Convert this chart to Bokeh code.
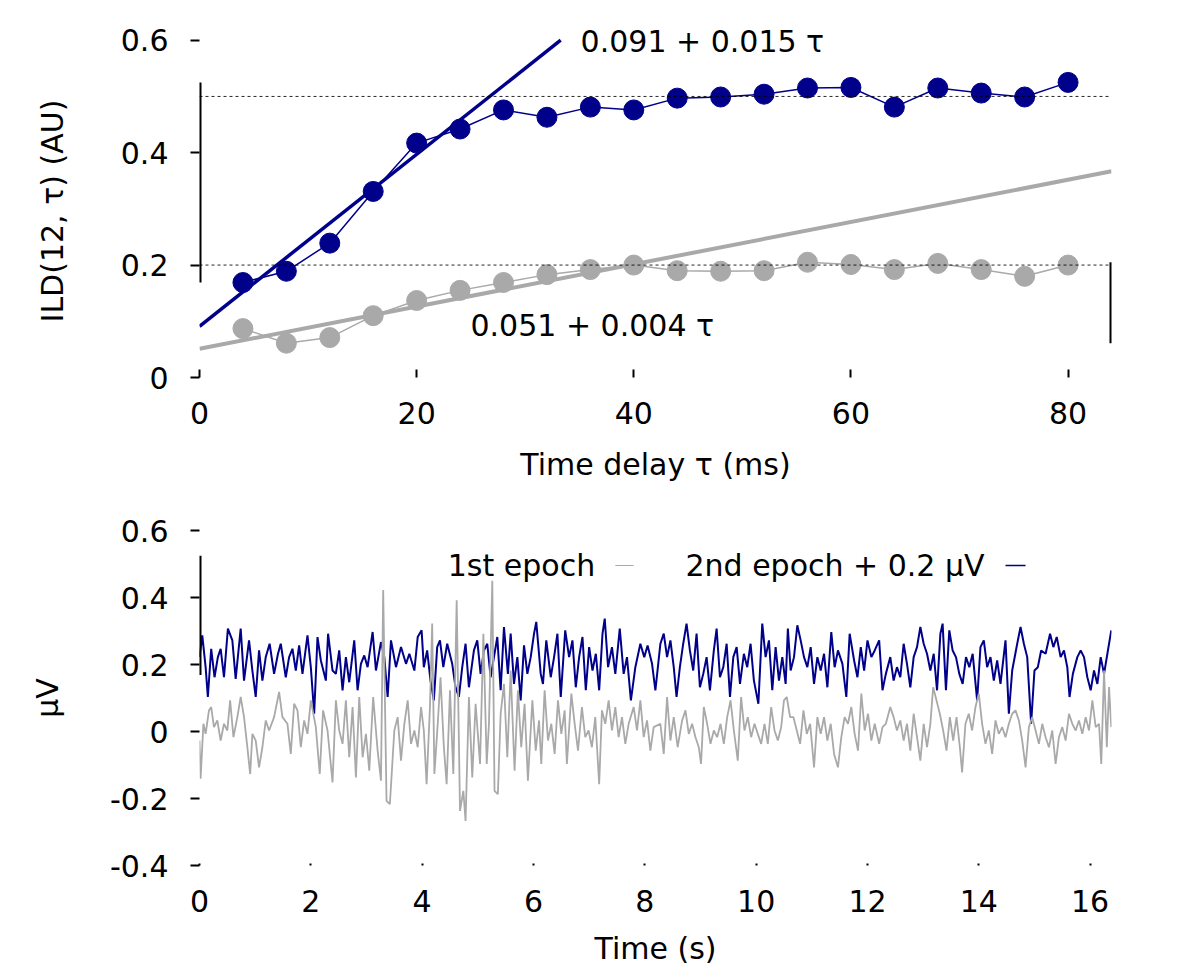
from bokeh.plotting import figure
from bokeh.layouts import column
from bokeh.models import FixedTicker, Span, Label, CustomJSTickFormatter, Range1d
from bokeh.embed import file_html
from bokeh.resources import INLINE

FONT = "DejaVu Sans"
FS = "30px"
NAVY = "#00008B"
GREY = "#A9A9A9"

# ---------------- top panel data ----------------
tau_ms = [4, 8, 12, 16, 20, 24, 28, 32, 36, 40, 44, 48, 52, 56, 60, 64, 68, 72, 76, 80]
ild_2nd = [0.169, 0.189, 0.239, 0.331, 0.417, 0.442, 0.476, 0.463, 0.481, 0.476,
           0.497, 0.499, 0.504, 0.515, 0.516, 0.481, 0.515, 0.506, 0.499, 0.525]
ild_1st = [0.087, 0.061, 0.071, 0.110, 0.137, 0.155, 0.169, 0.183, 0.192, 0.200,
           0.190, 0.189, 0.190, 0.205, 0.201, 0.192, 0.203, 0.192, 0.180, 0.200]
fit_2nd = (0.091, 0.0153)   # intercept, slope
fit_1st = (0.051, 0.00376)
fit_2nd_label = "0.091 + 0.015 \u03c4"
fit_1st_label = "0.051 + 0.004 \u03c4"
ref_levels = [0.5, 0.2]
tau_ticks = [0, 20, 40, 60, 80]
ild_ticks = [0, 0.2, 0.4, 0.6]
ild_top = 0.6

# ---------------- bottom panel data ----------------
epoch2_offset = 0.2
time_ticks = [0, 2, 4, 6, 8, 10, 12, 14, 16]
uv_ticks = [-0.4, -0.2, 0, 0.2, 0.4, 0.6]
epoch1 = [
 (0.00,-0.027),(0.02,-0.141),(0.07,0.023),(0.11,-0.007),(0.17,0.063),(0.21,0.073),(0.26,0.013),(0.32,0.033),(0.38,-0.027),(0.44,0.023),
 (0.50,0.003),(0.55,0.093),(0.61,-0.017),(0.68,0.043),(0.74,0.103),(0.80,0.043),(0.86,-0.047),(0.91,-0.127),(0.95,-0.007),(1.01,-0.027),
 (1.07,-0.107),(1.13,-0.047),(1.19,0.033),(1.25,0.003),(1.34,0.043),(1.43,0.118),(1.49,0.043),(1.58,0.023),(1.64,-0.067),(1.70,0.083),
 (1.76,0.063),(1.82,-0.047),(1.88,0.033),(1.94,-0.007),(2.00,0.093),(2.09,0.013),(2.16,-0.127),(2.22,0.063),(2.30,0.003),(2.39,-0.152),
 (2.45,0.093),(2.51,0.003),(2.57,-0.037),(2.63,0.093),(2.69,-0.077),(2.75,0.073),(2.81,-0.137),(2.87,0.103),(2.93,-0.077),(2.99,-0.007),
 (3.05,-0.117),(3.12,0.103),(3.20,-0.057),(3.26,-0.147),(3.30,0.422),(3.36,-0.207),(3.42,-0.217),(3.50,0.003),(3.56,0.043),(3.62,-0.087),
 (3.68,0.023),(3.74,0.093),(3.80,-0.037),(3.86,0.003),(3.92,-0.047),(3.98,0.073),
 (4.03,0.003),(4.08,-0.157),(4.14,0.073),(4.18,0.322),(4.22,-0.127),(4.28,0.023),(4.33,0.162),(4.39,-0.047),(4.44,-0.157),(4.50,0.123),
 (4.56,-0.127),(4.62,0.392),(4.68,-0.237),(4.74,-0.177),(4.78,-0.267),(4.84,0.103),(4.90,-0.137),(4.96,0.083),(5.04,-0.097),(5.10,0.292),
 (5.16,-0.097),(5.20,0.023),(5.26,0.450),(5.30,-0.177),(5.36,-0.187),(5.41,0.053),(5.47,0.142),(5.53,-0.077),(5.59,0.182),(5.66,-0.117),
 (5.72,0.123),(5.78,-0.047),(5.84,0.083),(5.90,-0.147),(5.98,0.093),(6.04,-0.057),(6.10,0.033),(6.14,-0.097),(6.20,0.123),(6.26,-0.027),
 (6.32,0.023),(6.38,-0.067),(6.44,0.093),(6.50,-0.007),(6.56,0.063),(6.60,-0.097),(6.68,0.113),(6.74,0.023),(6.80,-0.057),(6.87,0.073),
 (6.93,-0.017),(6.99,0.003),(7.05,-0.047),(7.11,0.043),(7.18,-0.157),(7.23,0.063),(7.29,0.023),(7.35,0.093),(7.41,0.003),(7.47,0.073),
 (7.53,-0.017),(7.59,0.043),(7.65,-0.037),(7.71,0.023),(7.80,0.073),(7.86,0.003),(7.92,0.093),(7.98,-0.017),(8.04,0.033),(8.10,-0.057),
 (8.16,0.013),
 (8.28,0.023),(8.34,-0.067),(8.40,0.103),(8.46,-0.027),(8.52,0.043),(8.59,-0.047),(8.67,0.033),(8.73,0.063),(8.79,-0.007),(8.85,0.023),
 (8.91,-0.017),(8.97,-0.047),(9.01,-0.097),(9.06,0.073),(9.12,0.023),(9.18,-0.037),(9.24,0.003),(9.30,-0.017),(9.36,0.023),(9.42,-0.037),
 (9.48,0.043),(9.54,0.093),(9.60,0.003),(9.67,-0.087),(9.73,0.103),(9.79,0.003),(9.85,0.043),(9.91,-0.017),(9.97,0.023),(10.03,-0.007),
 (10.09,-0.037),(10.15,0.023),(10.21,-0.037),(10.27,0.073),(10.33,0.003),(10.39,-0.027),(10.45,0.013),(10.50,0.093),(10.55,0.103),(10.61,0.043),
 (10.67,0.043),(10.73,0.003),(10.79,-0.037),(10.85,0.063),(10.91,-0.007),(10.97,0.023),(11.04,-0.107),(11.10,0.043),(11.16,-0.007),(11.22,0.043),
 (11.28,-0.027),(11.34,0.023),(11.40,-0.067),(11.47,-0.107),(11.53,-0.017),(11.59,0.043),(11.65,0.023),(11.71,0.073),(11.77,-0.007),(11.83,-0.057),
 (11.89,0.113),(11.95,0.003),(12.01,0.053),(12.07,-0.027),(12.13,0.023),(12.21,-0.037),(12.27,0.013),
 (12.33,0.023),(12.41,0.073),(12.47,0.043),(12.53,0.003),(12.59,0.033),(12.65,-0.027),(12.71,0.023),(12.77,-0.057),(12.83,0.053),(12.89,-0.017),
 (12.95,-0.087),(13.01,0.023),(13.07,-0.047),(13.13,0.023),(13.18,0.132),(13.24,0.093),(13.30,0.053),(13.36,0.003),(13.42,-0.057),(13.48,0.043),
 (13.54,-0.027),(13.60,0.043),(13.66,-0.047),(13.70,-0.122),(13.76,0.023),(13.82,0.053),(13.88,0.003),(13.94,0.073),(14.00,0.113),(14.06,0.023),
 (14.12,-0.037),(14.18,0.003),(14.24,-0.067),(14.30,0.033),(14.36,-0.007),(14.42,0.013),(14.48,-0.017),(14.54,0.023),(14.60,0.053),(14.66,0.063),
 (14.72,0.033),(14.78,-0.027),(14.84,-0.107),(14.90,0.013),(14.96,0.043),(15.02,0.003),(15.08,-0.037),(15.14,0.023),(15.20,-0.017),(15.26,-0.047),
 (15.32,0.003),(15.38,-0.097),(15.44,-0.017),(15.50,0.013),(15.56,-0.027),(15.62,0.053),(15.68,0.023),(15.74,0.003),(15.80,0.033),(15.86,-0.007),
 (15.92,0.043),(15.98,0.003),(16.04,0.093),(16.10,0.013),(16.16,0.023),(16.20,-0.097),(16.25,0.182),(16.30,-0.047),(16.34,0.133),(16.38,0.013),
]
epoch2 = [
 (0.00,0.022),(0.05,0.087),(0.11,-0.008),(0.15,-0.097),(0.21,0.047),(0.27,-0.038),(0.33,0.022),(0.38,0.047),(0.44,-0.038),(0.51,0.107),
 (0.59,0.072),(0.65,-0.043),(0.74,0.107),(0.80,-0.048),(0.89,0.072),(0.95,-0.018),(1.01,-0.097),(1.07,0.042),(1.13,-0.048),(1.19,0.022),
 (1.26,0.062),(1.34,-0.028),(1.41,0.032),(1.46,0.062),(1.55,-0.038),(1.61,0.022),(1.67,0.047),(1.73,-0.018),(1.79,0.057),(1.85,-0.028),
 (1.94,0.087),(2.00,-0.008),(2.06,-0.147),(2.12,0.082),(2.18,0.012),(2.27,-0.048),(2.31,0.092),(2.39,-0.018),(2.45,-0.028),(2.51,0.042),
 (2.57,-0.077),(2.63,0.022),(2.69,-0.053),(2.78,0.072),(2.84,-0.077),(2.90,0.002),(2.96,0.027),(3.02,-0.008),(3.11,0.097),(3.17,-0.018),
 (3.26,0.067),(3.32,0.022),(3.38,-0.097),(3.44,0.072),(3.53,-0.008),(3.62,0.052),(3.71,0.002),(3.77,0.032),(3.86,-0.018),(3.92,0.082),
 (3.99,0.102),
 (4.03,-0.008),(4.09,0.042),(4.15,-0.048),(4.21,-0.107),(4.27,0.052),(4.32,0.072),(4.38,-0.008),(4.45,0.062),(4.54,0.002),(4.60,-0.068),
 (4.66,-0.097),(4.72,-0.008),(4.78,0.062),(4.84,-0.068),(4.93,0.042),(4.99,0.072),(5.05,-0.028),(5.11,0.042),(5.17,0.062),(5.23,-0.038),
 (5.29,0.022),(5.35,0.082),(5.41,-0.077),(5.47,0.112),(5.54,-0.028),(5.59,0.092),(5.65,-0.058),(5.71,0.022),(5.77,-0.107),(5.83,0.057),
 (5.89,-0.028),(5.95,0.022),(6.01,0.092),(6.05,0.127),(6.13,-0.028),(6.17,-0.058),(6.23,0.072),(6.31,-0.038),(6.37,0.022),(6.43,0.092),
 (6.49,-0.097),(6.57,0.102),(6.64,0.022),(6.70,0.072),(6.76,-0.068),(6.82,0.022),(6.88,0.082),(6.94,-0.077),(7.00,0.052),(7.06,-0.018),
 (7.12,0.032),(7.18,-0.077),(7.24,0.092),(7.28,0.137),(7.34,-0.008),(7.41,0.052),(7.47,-0.028),(7.55,0.107),(7.62,-0.028),(7.68,0.022),
 (7.75,-0.107),(7.83,-0.008),(7.92,0.062),(7.99,0.022),(8.05,0.057),(8.13,0.002),(8.19,-0.077),
 (8.28,0.062),(8.34,0.092),(8.40,0.022),(8.46,0.072),(8.52,-0.008),(8.57,-0.097),(8.63,-0.008),(8.69,0.062),(8.75,0.122),(8.81,0.042),
 (8.87,-0.018),(8.93,0.092),(8.99,-0.068),(9.05,-0.028),(9.11,0.022),(9.17,-0.077),(9.24,0.042),(9.29,0.107),(9.35,-0.038),(9.41,-0.008),
 (9.47,0.062),(9.53,-0.097),(9.59,0.022),(9.65,0.052),(9.71,-0.058),(9.78,0.032),(9.84,-0.008),(9.90,0.062),(9.96,-0.048),(10.04,-0.117),
 (10.11,0.122),(10.17,0.022),(10.23,0.072),(10.29,-0.077),(10.35,0.052),(10.41,-0.048),(10.47,0.022),(10.53,-0.058),(10.57,0.107),(10.62,-0.018),
 (10.68,0.022),(10.74,0.117),(10.80,0.072),(10.86,0.022),(10.92,-0.008),(10.98,0.052),(11.04,-0.058),(11.10,0.022),(11.16,-0.018),(11.22,0.032),
 (11.28,-0.068),(11.35,0.097),(11.41,-0.008),(11.47,0.042),(11.55,0.002),(11.62,-0.097),(11.68,0.092),(11.76,0.012),(11.82,-0.038),(11.88,0.052),
 (11.94,-0.018),(12.00,0.072),(12.07,0.022),(12.13,0.042),(12.21,0.072),(12.27,-0.077),
 (12.33,-0.028),(12.41,0.022),(12.47,-0.048),(12.53,-0.008),(12.59,-0.038),(12.65,0.062),(12.71,0.002),(12.77,-0.068),(12.83,0.022),(12.89,0.052),
 (12.95,0.112),(13.01,0.062),(13.07,0.032),(13.13,-0.018),(13.19,0.032),(13.25,-0.077),(13.31,0.092),(13.35,0.122),(13.41,-0.077),(13.47,0.102),
 (13.53,0.042),(13.59,0.022),(13.65,-0.028),(13.71,-0.058),(13.77,0.022),(13.83,-0.008),(13.89,0.032),(13.97,-0.107),(14.03,0.052),(14.09,0.072),
 (14.15,-0.008),(14.21,0.022),(14.27,-0.048),(14.33,0.012),(14.39,-0.058),(14.48,0.072),(14.54,-0.147),(14.60,-0.018),(14.69,0.062),(14.75,0.112),
 (14.81,0.062),(14.87,0.022),(14.94,-0.177),(15.00,-0.018),(15.06,-0.008),(15.12,0.042),(15.20,0.032),(15.28,0.092),(15.34,0.052),(15.40,0.082),
 (15.47,0.022),(15.53,0.042),(15.59,-0.008),(15.63,-0.097),(15.69,-0.028),(15.77,0.022),(15.83,0.042),(15.89,0.022),(15.95,-0.038),(16.01,-0.077),
 (16.07,-0.018),(16.13,-0.058),(16.19,0.022),(16.25,-0.028),(16.31,0.032),(16.38,0.102),
]
epoch1_t = [p[0] for p in epoch1]
epoch1_uv = [p[1] for p in epoch1]
epoch2_t = [p[0] for p in epoch2]
epoch2_uv = [p[1] + epoch2_offset for p in epoch2]

fmt = CustomJSTickFormatter(code="return String(Math.round(tick*10)/10)")


def style(p, xticks, yticks, x_tick_in, xlabel, ylabel, ylab_standoff, xlab_standoff):
    p.outline_line_color = None
    p.xgrid.visible = False
    p.ygrid.visible = False
    p.background_fill_color = "white"
    p.border_fill_color = "white"
    for ax in (p.xaxis[0], p.yaxis[0]):
        ax.axis_line_color = None
        ax.minor_tick_line_color = None
        ax.major_tick_line_color = "black"
        ax.major_tick_line_width = 2
        ax.major_label_text_font = FONT
        ax.major_label_text_font_size = FS
        ax.major_label_text_color = "black"
        ax.axis_label_text_font = FONT
        ax.axis_label_text_font_size = FS
        ax.axis_label_text_font_style = "normal"
        ax.axis_label_text_color = "black"
    xa = p.xaxis[0]
    xa.ticker = FixedTicker(ticks=xticks)
    xa.major_tick_in = x_tick_in
    xa.major_tick_out = 0
    xa.major_label_standoff = 24
    xa.axis_label = xlabel
    xa.axis_label_standoff = xlab_standoff
    ya = p.yaxis[0]
    ya.ticker = FixedTicker(ticks=yticks)
    ya.formatter = fmt
    ya.major_tick_in = 0
    ya.major_tick_out = 9
    ya.major_label_standoff = 22
    ya.axis_label = ylabel
    ya.axis_label_standoff = ylab_standoff


# ---------------- top figure ----------------
p1 = figure(frame_width=912, frame_height=371,
            x_range=Range1d(0, 84), y_range=Range1d(0, 0.66),
            min_border_left=199, min_border_right=81, min_border_top=6, min_border_bottom=111,
            output_backend="svg", toolbar_location=None)
# trailing no-break spaces keep the rotated label centred on the 0-0.6 span
style(p1, tau_ticks, ild_ticks, 8, "Time delay \u03c4 (ms)",
      "ILD(12, \u03c4) (AU)" + "\u00a0" * 4, 48, 20)

for lv in ref_levels:
    p1.add_layout(Span(location=lv, dimension="width", line_color="black",
                       line_width=1, line_dash="3 3", line_alpha=0.85))

x_end = p1.x_range.end
a1, b1 = fit_1st
a2, b2 = fit_2nd
t2_end = min(x_end, (ild_top - a2) / b2)
p1.line([0, x_end], [a1, a1 + b1 * x_end], line_color=GREY, line_width=4)
p1.line([0, t2_end], [a2, a2 + b2 * t2_end], line_color=NAVY, line_width=3.5)

p1.line(tau_ms, ild_1st, line_color=GREY, line_width=1.5)
p1.scatter(tau_ms, ild_1st, size=20, color=GREY)
p1.line(tau_ms, ild_2nd, line_color=NAVY, line_width=1.5)
p1.scatter(tau_ms, ild_2nd, size=20, color=NAVY)

# range-frame bars
p1.segment(x0=[0], y0=[min(ild_2nd)], x1=[0], y1=[max(ild_2nd)], line_color="black", line_width=4)
p1.segment(x0=[x_end], y0=[min(ild_1st)], x1=[x_end], y1=[max(ild_1st)], line_color="black", line_width=4)

p1.add_layout(Label(x=35.1, y=0.597, text=fit_2nd_label, text_baseline="middle", text_align="left",
                    text_font=FONT, text_font_size=FS, text_color="black"))
p1.add_layout(Label(x=24.96, y=0.0926, text=fit_1st_label, text_baseline="middle", text_align="left",
                    text_font=FONT, text_font_size=FS, text_color="black"))

# ---------------- bottom figure ----------------
p2 = figure(frame_width=912, frame_height=335,
            x_range=Range1d(0, 16.384), y_range=Range1d(-0.4, 0.6),
            min_border_left=199, min_border_right=81, min_border_top=42, min_border_bottom=103,
            output_backend="svg", toolbar_location=None)
style(p2, time_ticks, uv_ticks, 2, "Time (s)", "\u03bcV", 42, 16)

p2.line(epoch2_t, epoch2_uv, line_color=NAVY, line_width=2.0)
p2.line(epoch1_t, epoch1_uv, line_color=GREY, line_width=1.8)
p2.segment(x0=[0], y0=[min(ild_2nd)], x1=[0], y1=[max(ild_2nd)], line_color="black", line_width=4)

leg_y = 0.4955
p2.add_layout(Label(x=4.46, y=leg_y, text="1st epoch", text_baseline="middle", text_align="left",
                    text_font=FONT, text_font_size=FS, text_color="black"))
p2.add_layout(Label(x=8.73, y=leg_y, text="2nd epoch + 0.2 \u03bcV", text_baseline="middle", text_align="left",
                    text_font=FONT, text_font_size=FS, text_color="black"))
p2.segment(x0=[7.47], y0=[leg_y], x1=[7.80], y1=[leg_y], line_color=GREY, line_width=1.2)
p2.segment(x0=[14.48], y0=[leg_y], x1=[14.84], y1=[leg_y], line_color=NAVY, line_width=1.5)

layout = column(p1, p2, spacing=0)
open("out.html", "w").write(file_html(layout, INLINE))
